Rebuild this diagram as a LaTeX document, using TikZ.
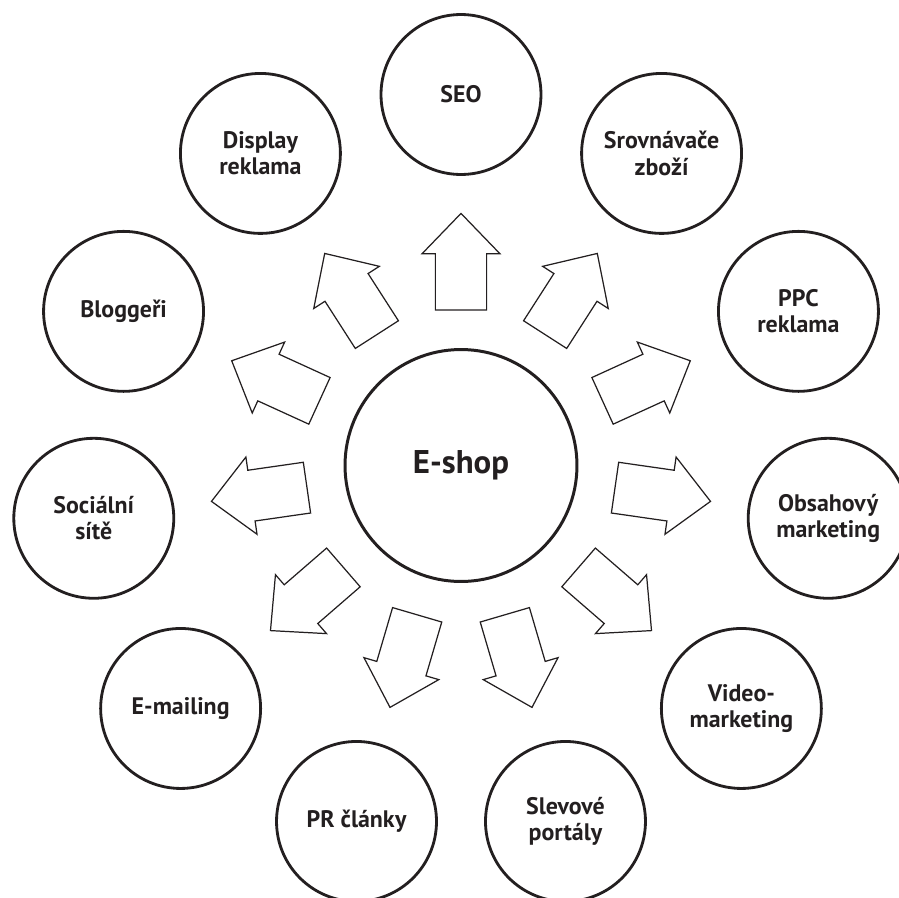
\documentclass[tikz,border=0pt]{standalone}
\usepackage{fontspec}
\setmainfont{PT Sans}
\usetikzlibrary{shapes,positioning}

\definecolor{inkgray}{RGB}{35,31,32}

\begin{document}
\begin{tikzpicture}
				[
					x=0.02cm, y=0.02cm,
					shopnode/.style={circle, draw=inkgray, line width=1.7pt, minimum size=4.64cm, text=inkgray, font=\fontsize{18.7}{21}\selectfont\bfseries},
					roundnode/.style={circle, draw=inkgray, line width=1.6pt, minimum size=3.2cm, align=center, text=inkgray, font=\fontsize{13.6}{14.8}\selectfont\bfseries},
					blockarrow/.style={single arrow, draw=inkgray, line width=0.7pt, inner xsep=0pt, inner ysep=0.467cm, minimum height=1.93cm, minimum width=1.56cm, single arrow tip angle=88, anchor=tail},
				]
				\useasboundingbox (-461,-431.5) rectangle (438,465.5);

				\node [shopnode] (eshop) at (0,0) {E-shop};

				\node [roundnode] (seo) at (90:371) {SEO};
				\node [roundnode] (srovnavace) at (57.27:371) {Srovnávače\\zboží};
				\node [roundnode] (ppc) at (24.55:371) {PPC\\reklama};
				\node [roundnode] (obsah) at (-8.18:371) {Obsahový\\marketing};
				\node [roundnode] (video) at (-40.91:371) {Video-\\marketing};
				\node [roundnode] (slevy) at (-73.64:371) {Slevové\\portály};
				\node [roundnode] (pr) at (-106.36:371) {PR články};
				\node [roundnode] (emailing) at (-139.09:371) {E-mailing};
				\node [roundnode] (socialni) at (-171.82:371) {Sociální\\sítě};
				\node [roundnode] (bloggeri) at (155.45:371) {Bloggeři};
				\node [roundnode] (display) at (122.73:371) {Display\\reklama};

				\node [blockarrow, rotate=90] (toseo) at (90:155) {};
				\node [blockarrow, rotate=57.27] (tosrovnavace) at (57.27:155) {};
				\node [blockarrow, rotate=24.55] (toppc) at (24.55:155) {};
				\node [blockarrow, rotate=-8.18] (toobsah) at (-8.18:155) {};
				\node [blockarrow, rotate=-40.91] (tovideo) at (-40.91:155) {};
				\node [blockarrow, rotate=-73.64] (toslevy) at (-73.64:155) {};
				\node [blockarrow, rotate=-106.36] (topr) at (-106.36:155) {};
				\node [blockarrow, rotate=-139.09] (toemailing) at (-139.09:155) {};
				\node [blockarrow, rotate=-171.82] (tosocialni) at (-171.82:155) {};
				\node [blockarrow, rotate=155.45] (tobloggeri) at (155.45:155) {};
				\node [blockarrow, rotate=122.73] (todisplay) at (122.73:155) {};

			\end{tikzpicture}
\end{document}
